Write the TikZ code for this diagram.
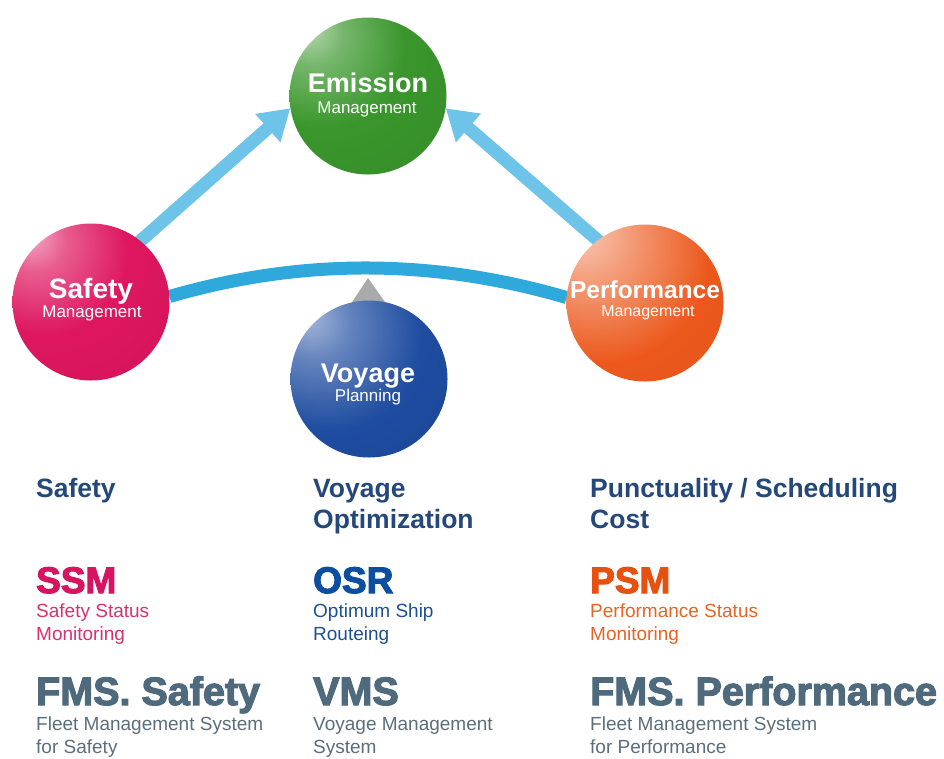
\documentclass[tikz,border=0pt]{standalone}
\usepackage{fontspec}
\setmainfont{Liberation Sans}
\newfontfamily\heavyfont[FakeBold=3]{Liberation Sans Bold}
\usetikzlibrary{arrows.meta}

% sphere colours
\definecolor{cG}{RGB}{58,150,44}
\definecolor{cM}{RGB}{222,22,96}
\definecolor{cO}{RGB}{236,88,28}
\definecolor{cB}{RGB}{30,76,160}
% connectors
\definecolor{arrowblue}{RGB}{110,195,232}
\definecolor{arcblue}{RGB}{47,168,220}
\definecolor{pointergrey}{RGB}{170,170,172}
% text colours
\definecolor{navy}{RGB}{36,72,122}
\definecolor{magtxt}{RGB}{214,20,96}
\definecolor{magsub}{RGB}{216,50,110}
\definecolor{bluetxt}{RGB}{12,78,160}
\definecolor{bluesub}{RGB}{30,80,145}
\definecolor{orgtxt}{RGB}{232,80,16}
\definecolor{orgsub}{RGB}{232,100,36}
\definecolor{slate}{RGB}{78,106,124}
\definecolor{slatesub}{RGB}{92,110,124}

% glossy sphere shadings, light from the upper left
\pgfdeclareradialshading{ballGreen}{\pgfpoint{-20bp}{22bp}}{%
  color(0bp)=(cG!35!white); color(10bp)=(cG!70!white); color(26bp)=(cG);
  color(60bp)=(cG!90!black); color(90bp)=(cG!72!black)}
\pgfdeclareradialshading{ballMagenta}{\pgfpoint{-20bp}{22bp}}{%
  color(0bp)=(cM!35!white); color(10bp)=(cM!70!white); color(26bp)=(cM);
  color(60bp)=(cM!92!black); color(90bp)=(cM!75!black)}
\pgfdeclareradialshading{ballOrange}{\pgfpoint{-22bp}{24bp}}{%
  color(0bp)=(cO!30!white); color(14bp)=(cO!60!white); color(34bp)=(cO);
  color(60bp)=(cO!95!black); color(90bp)=(cO!80!black)}
\pgfdeclareradialshading{ballBlue}{\pgfpoint{-20bp}{20bp}}{%
  color(0bp)=(cB!40!white); color(12bp)=(cB!70!white); color(30bp)=(cB);
  color(60bp)=(cB!88!black); color(90bp)=(cB!70!black)}

\begin{document}
\begin{tikzpicture}[x=1pt,y=-1pt,
  ball/.style={circle, minimum size=157pt, inner sep=0pt, shade},
  balltitle/.style={anchor=base, inner sep=0pt, text=white,
    font=\bfseries\fontsize{27}{30}\selectfont},
  ballsub/.style={anchor=base, inner sep=0pt, text=white,
    font=\fontsize{17}{20}\selectfont},
  feed/.style={draw=arrowblue, line width=13pt,
    -{Triangle[length=30pt,width=36pt]}, shorten <=-10pt},
  arcline/.style={draw=arcblue, line width=13pt},
  txt/.style={anchor=base west, inner sep=0pt},
  head/.style={txt, text=navy, font=\bfseries\fontsize{26.5}{30}\selectfont},
  code/.style={txt, font=\heavyfont\fontsize{37}{40}\selectfont},
  fms/.style={txt, text=slate, font=\heavyfont\fontsize{39.5}{42}\selectfont},
  desc/.style={txt, font=\fontsize{19}{22}\selectfont}]
\useasboundingbox (0,0) rectangle (944,758);
\fill[white] (0,0) rectangle (944,758);

% sphere positions (drawn later, named now for the connectors)
\path (368,96) coordinate (emiC) (91,302) coordinate (safC)
      (645,303) coordinate (perC) (369,379) coordinate (voyC);
\node[circle, minimum size=157pt, inner sep=0pt] (emi) at (emiC) {};
\node[circle, minimum size=157pt, inner sep=0pt] (saf) at (safC) {};
\node[circle, minimum size=157pt, inner sep=0pt] (per) at (perC) {};
\node[circle, minimum size=157pt, inner sep=0pt] (voy) at (voyC) {};

% connectors behind the spheres
\draw[arcline] (saf.4) .. controls +(133,-38.7) and +(-133,-38.7) .. (per.176);
\draw[feed] (saf.51) -- (emi.189);
\draw[feed] (per.127.6) -- (emi.351.4);
\fill[pointergrey] (368,278) -- (385,302) -- (352,302) -- cycle;

% spheres
\node[ball, shading=ballGreen] (emiball) at (emiC) {};
\node[ball, shading=ballMagenta] (safball) at (safC) {};
\node[ball, shading=ballOrange] (perball) at (perC) {};
\node[ball, shading=ballBlue] (voyball) at (voyC) {};

% sphere labels
\node[balltitle] (emiT) at (368,92) {Emission};
\node[ballsub] (emiS) at (367,113) {Management};
\node[balltitle, font=\bfseries\fontsize{28}{30}\selectfont] (safT) at (91,298) {Safety};
\node[ballsub] (safS) at (92,317) {Management};
\node[balltitle, font=\bfseries\fontsize{24.5}{30}\selectfont] (perT) at (645,298) {Performance};
\node[ballsub, font=\fontsize{16}{20}\selectfont] (perS) at (648,316) {Management};
\node[balltitle] (voyT) at (368,382) {Voyage};
\node[ballsub] (voyS) at (368,401) {Planning};

% left column
\node[head] (h1) at (36,497) {Safety};
\node[code, text=magtxt] (c1) at (36,593) {SSM};
\node[desc, text=magsub] (d1a) at (36,617) {Safety Status};
\node[desc, text=magsub] (d1b) at (36,640) {Monitoring};
\node[fms] (f1) at (36,705) {FMS. Safety};
\node[desc, text=slatesub] (g1a) at (36,730) {Fleet Management System};
\node[desc, text=slatesub] (g1b) at (36,753) {for Safety};

% middle column
\node[head] (h2a) at (313,497) {Voyage};
\node[head] (h2b) at (313,528) {Optimization};
\node[code, text=bluetxt] (c2) at (313,593) {OSR};
\node[desc, text=bluesub] (d2a) at (313,617) {Optimum Ship};
\node[desc, text=bluesub] (d2b) at (313,640) {Routeing};
\node[fms] (f2) at (313,705) {VMS};
\node[desc, text=slatesub] (g2a) at (313,730) {Voyage Management};
\node[desc, text=slatesub] (g2b) at (313,753) {System};

% right column
\node[head] (h3a) at (590,497) {Punctuality / Scheduling};
\node[head] (h3b) at (590,528) {Cost};
\node[code, text=orgtxt] (c3) at (590,593) {PSM};
\node[desc, text=orgsub] (d3a) at (590,617) {Performance Status};
\node[desc, text=orgsub] (d3b) at (590,640) {Monitoring};
\node[fms] (f3) at (590,705) {FMS. Performance};
\node[desc, text=slatesub] (g3a) at (590,730) {Fleet Management System};
\node[desc, text=slatesub] (g3b) at (590,753) {for Performance};
\end{tikzpicture}
\end{document}
